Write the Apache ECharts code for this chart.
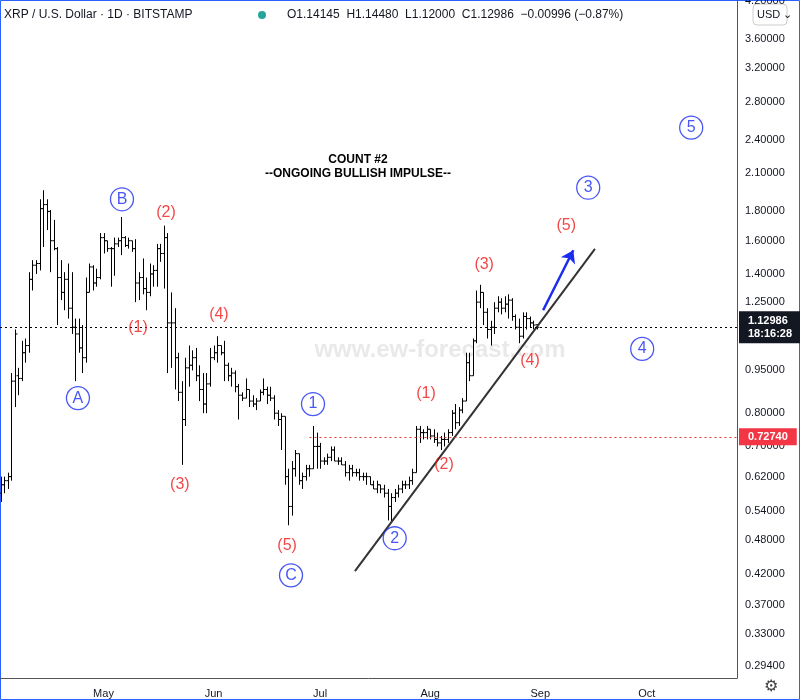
<!DOCTYPE html>
<html>
<head>
<meta charset="utf-8">
<script src="https://cdn.jsdelivr.net/npm/echarts@6/dist/echarts.min.js"></script>
<style>
html,body{margin:0;padding:0;background:#fff;}
#main{width:800px;height:700px;}
</style>
</head>
<body>
<div id="main"></div>
<script>
// daily bars from 2021-04-02, [open, high, low, close]
var startDay = Date.UTC(2021, 3, 2);
var bars = [
[0.58,0.62,0.56,0.60],[0.60,0.62,0.58,0.61],[0.61,0.63,0.59,0.62],[0.62,0.94,0.61,0.91],
[0.91,1.12,0.82,1.10],[0.93,0.96,0.86,0.92],[0.92,1.07,0.91,1.02],[1.02,1.08,0.98,1.05],
[1.05,1.41,1.02,1.37],[1.37,1.48,1.31,1.45],[1.45,1.48,1.40,1.46],[1.46,1.89,1.42,1.82],
[1.82,1.96,1.56,1.85],[1.85,1.89,1.67,1.80],[1.80,1.81,1.41,1.60],[1.60,1.74,1.54,1.55],
[1.55,1.56,1.14,1.38],[1.38,1.48,1.26,1.30],[1.30,1.41,1.21,1.37],[1.37,1.46,1.17,1.22],
[1.22,1.41,1.10,1.13],[1.13,1.17,0.91,1.10],[1.10,1.17,1.02,1.04],[1.04,1.14,0.94,1.00],
[1.00,1.38,0.98,1.30],[1.30,1.46,1.30,1.44],[1.44,1.45,1.31,1.35],[1.35,1.43,1.33,1.38],
[1.38,1.65,1.37,1.62],
// May
[1.62,1.65,1.52,1.60],[1.60,1.60,1.53,1.55],[1.55,1.56,1.33,1.55],[1.55,1.62,1.39,1.58],
[1.58,1.62,1.56,1.60],[1.60,1.76,1.51,1.62],[1.62,1.63,1.56,1.57],[1.57,1.62,1.55,1.60],
[1.60,1.60,1.53,1.55],[1.55,1.61,1.25,1.35],[1.35,1.41,1.26,1.38],[1.38,1.49,1.29,1.32],
[1.32,1.38,1.21,1.30],[1.30,1.46,1.28,1.40],[1.40,1.45,1.33,1.42],[1.42,1.58,1.33,1.55],
[1.55,1.58,1.47,1.52],[1.52,1.70,1.32,1.62],[1.62,1.65,0.94,1.15],[1.15,1.30,0.96,1.15],
[1.15,1.22,0.88,1.00],[1.00,1.02,0.84,0.87],[0.87,0.91,0.65,0.78],[0.78,1.00,0.76,0.96],
[0.96,1.05,0.89,0.97],[0.97,1.03,0.95,1.00],[1.00,1.04,0.91,0.93],[0.93,0.97,0.84,0.88],
[0.88,0.94,0.80,0.83],[0.83,0.94,0.80,0.90],[0.90,1.04,0.89,1.00],
// Jun
[1.00,1.05,0.99,1.02],[1.02,1.09,0.98,1.05],[1.05,1.05,1.01,1.02],[1.02,1.07,0.91,0.97],
[0.97,0.98,0.91,0.93],[0.93,0.96,0.89,0.94],[0.94,0.95,0.87,0.89],[0.89,0.90,0.78,0.86],
[0.86,0.87,0.84,0.85],[0.85,0.92,0.85,0.88],[0.88,0.88,0.82,0.84],[0.84,0.86,0.82,0.83],
[0.83,0.85,0.81,0.84],[0.84,0.88,0.84,0.87],[0.87,0.92,0.86,0.88],[0.88,0.89,0.83,0.86],
[0.86,0.89,0.84,0.85],[0.85,0.86,0.78,0.80],[0.80,0.81,0.76,0.78],[0.78,0.80,0.69,0.79],
[0.79,0.79,0.60,0.62],[0.62,0.64,0.51,0.55],[0.55,0.66,0.53,0.64],[0.64,0.69,0.62,0.68],
[0.68,0.68,0.60,0.61],[0.61,0.63,0.59,0.62],[0.62,0.65,0.61,0.64],[0.64,0.65,0.62,0.64],
[0.64,0.76,0.64,0.70],[0.70,0.74,0.64,0.70],
// Jul
[0.70,0.71,0.64,0.66],[0.66,0.67,0.65,0.66],[0.66,0.68,0.65,0.67],[0.67,0.70,0.66,0.69],
[0.69,0.70,0.66,0.66],[0.66,0.67,0.65,0.66],[0.66,0.67,0.65,0.65],[0.65,0.66,0.62,0.63],
[0.63,0.65,0.61,0.64],[0.64,0.65,0.62,0.63],[0.63,0.64,0.62,0.63],[0.63,0.64,0.61,0.62],
[0.62,0.63,0.61,0.62],[0.62,0.63,0.60,0.62],[0.62,0.62,0.60,0.60],[0.60,0.61,0.59,0.59],
[0.59,0.61,0.58,0.60],[0.60,0.60,0.58,0.59],[0.59,0.60,0.57,0.58],[0.58,0.59,0.52,0.55],
[0.55,0.58,0.515,0.57],[0.57,0.59,0.56,0.58],[0.58,0.60,0.57,0.59],[0.59,0.61,0.58,0.60],
[0.60,0.61,0.59,0.60],[0.60,0.62,0.59,0.61],[0.61,0.64,0.60,0.63],[0.63,0.76,0.63,0.75],
[0.75,0.76,0.71,0.74],[0.74,0.75,0.72,0.74],[0.74,0.76,0.72,0.75],
// Aug
[0.75,0.75,0.72,0.73],[0.73,0.75,0.71,0.72],[0.72,0.74,0.70,0.71],[0.71,0.73,0.69,0.72],
[0.72,0.74,0.70,0.72],[0.72,0.75,0.71,0.74],[0.74,0.81,0.73,0.80],[0.80,0.83,0.75,0.77],
[0.77,0.82,0.76,0.81],[0.81,0.85,0.80,0.84],[0.84,1.02,0.84,0.98],[0.98,1.02,0.91,0.93],
[0.93,1.08,0.93,1.07],[1.07,1.31,1.06,1.25],[1.25,1.34,1.22,1.30],[1.30,1.30,1.14,1.20],
[1.20,1.22,1.08,1.12],[1.12,1.16,1.05,1.13],[1.13,1.25,1.10,1.22],[1.22,1.28,1.20,1.25],
[1.25,1.27,1.19,1.22],[1.22,1.28,1.20,1.24],[1.24,1.29,1.17,1.26],[1.26,1.27,1.16,1.18],
[1.18,1.19,1.12,1.13],[1.13,1.17,1.06,1.09],[1.09,1.20,1.08,1.18],[1.18,1.20,1.12,1.17],
[1.17,1.18,1.13,1.15],[1.15,1.16,1.12,1.14],[1.14145,1.1448,1.12,1.12986]
];
var priceTicks = [4.2,3.6,3.2,2.8,2.4,2.1,1.8,1.6,1.4,1.25,0.95,0.8,0.7,0.62,0.54,0.48,0.42,0.37,0.33,0.294];
var lastPrice = 1.12986;
var levelPrice = 0.7274;
// wave labels: [day from Apr 1, price, text, kind]
var waveLabels = [
  [22.8,0.85,'A','c'],[35.2,1.89,'B','c'],[82.8,0.417,'C','c'],
  [39.7,1.13,'(1)','r'],[47.6,1.79,'(2)','r'],[51.5,0.60,'(3)','r'],[62.5,1.19,'(4)','r'],[81.7,0.47,'(5)','r'],
  [89,0.83,'1','c'],[112,0.484,'2','c'],[166.5,1.98,'3','c'],[181.7,1.036,'4','c'],[195.5,2.52,'5','c'],
  [120.8,0.864,'(1)','r'],[125.9,0.652,'(2)','r'],[137.2,1.456,'(3)','r'],[150.1,0.99,'(4)','r'],[160.3,1.70,'(5)','r']
];
var trendLine = [[100.8,0.424],[168.4,1.548]];
var arrowLine = [[153.8,1.21],[162.3,1.54]];

var DAY = 86400000;
var apr1 = Date.UTC(2021, 3, 1);
function t(d){ return apr1 + d * DAY; }
var barData = bars.map(function(b, i){ return [startDay + i * DAY, b[0], b[1], b[2], b[3]]; });

var chart = echarts.init(document.getElementById('main'));
var option = {
  animation: false,
  textStyle: {fontFamily: 'Liberation Sans, Arial, sans-serif'},
  grid: {left: 0, right: 63, top: 0, bottom: 22},
  xAxis: {
    type: 'time', min: t(0.85), max: t(208.4),
    splitLine: {show: false}, axisTick: {show: false},
    axisLine: {lineStyle: {color: '#555'}},
    minInterval: 28 * DAY,
    axisLabel: {color: '#131722', fontSize: 11, margin: 10, formatter: {month: '{MMM}', year: '{MMM}', day: ''}}
  },
  yAxis: {
    type: 'log', logBase: 10, min: 0.276, max: 4.21, position: 'right',
    axisLine: {show: true, lineStyle: {color: '#555'}},
    axisLabel: {show: false}, axisTick: {show: false}, splitLine: {show: false}
  },
  graphic: [
    {type: 'text', left: 4, top: 9, style: {text: 'XRP / U.S. Dollar · 1D · BITSTAMP', fill: '#131722', font: '12px Liberation Sans'}},
    {type: 'circle', shape: {cx: 262, cy: 15, r: 4}, style: {fill: '#26a69a'}},
    {type: 'text', left: 287, top: 9, style: {text: 'O1.14145  H1.14480  L1.12000  C1.12986  −0.00996 (−0.87%)', fill: '#131722', font: '12px Liberation Sans'}},
    {type: 'text', x: 358, y: 153, style: {text: 'COUNT #2\n--ONGOING BULLISH IMPULSE--', fill: '#000', font: 'bold 12px Liberation Sans', align: 'center', lineHeight: 14}},
    {type: 'text', x: 440, y: 350, style: {text: 'www.ew-forecast.com', fill: 'rgba(200,200,200,0.4)', font: 'bold 24px Liberation Sans', align: 'center', verticalAlign: 'middle'}},
    {type: 'rect', shape: {x: 753, y: 4, width: 34, height: 21, r: 4}, style: {fill: '#fff', stroke: '#ccc'}},
    {type: 'text', left: 757, top: 9, style: {text: 'USD ⌄', fill: '#131722', font: '11px Liberation Sans'}},
    {type: 'text', left: 764, top: 679, style: {text: '⚙', fill: '#444', font: '16px DejaVu Sans'}},
    {type: 'rect', shape: {x: 0.5, y: 0.5, width: 799, height: 699}, style: {fill: 'none', stroke: '#2962ff', lineWidth: 1}}
  ],
  series: [
    {
      type: 'custom', data: barData, encode: {x: 0, y: [1, 2, 3, 4]}, z: 3,
      renderItem: function(params, api){
        var x = api.value(0);
        var po = api.coord([x, api.value(1)]), ph = api.coord([x, api.value(2)]);
        var pl = api.coord([x, api.value(3)]), pc = api.coord([x, api.value(4)]);
        var s = {stroke: '#000', lineWidth: 1};
        var cx = Math.round(ph[0]) + 0.5;
        return {type: 'group', children: [
          {type: 'line', shape: {x1: cx, y1: ph[1], x2: cx, y2: pl[1]}, style: s},
          {type: 'line', shape: {x1: cx - 2, y1: po[1], x2: cx, y2: po[1]}, style: s},
          {type: 'line', shape: {x1: cx, y1: pc[1], x2: cx + 2, y2: pc[1]}, style: s}
        ]};
      }
    },
    {
      // price scale labels on the right
      type: 'line', data: [], z: 2,
      markLine: {
        silent: true, symbol: 'none', animation: false,
        data: priceTicks.map(function(v){
          return {yAxis: v, lineStyle: {color: 'rgba(0,0,0,0)', width: 1},
            label: {show: true, position: 'end', distance: 8, color: '#131722', fontSize: 11, formatter: v.toFixed(5)}};
        })
      }
    },
    {
      type: 'line', data: [], z: 6,
      markLine: {
        silent: true, symbol: 'none', animation: false,
        data: [
          {yAxis: lastPrice, lineStyle: {color: '#000', type: [2, 3], width: 1},
           label: {position: 'end', distance: 2, formatter: '1.12986\n18:16:28', color: '#fff', backgroundColor: '#131722', padding: [3, 9, 3, 9], fontSize: 11, fontWeight: 'bold', lineHeight: 13}},
          [{coord: [t(88), levelPrice], lineStyle: {color: '#e53935', type: [2, 3], width: 1}},
           {coord: [t(208.4), levelPrice], label: {position: 'end', distance: 2, formatter: '0.72740', color: '#fff', backgroundColor: '#f23645', padding: [3, 9, 3, 9], fontSize: 11, fontWeight: 'bold'}}]
        ]
      }
    },
    {
      type: 'line', data: trendLine.map(function(p){ return [t(p[0]), p[1]]; }),
      symbol: 'none', lineStyle: {color: '#333', width: 2}, z: 4
    },
    {
      type: 'line', data: arrowLine.map(function(p){ return [t(p[0]), p[1]]; }),
      symbol: 'none', lineStyle: {width: 0}, z: 4,
      markLine: {silent: true, symbol: ['none', 'arrow'], symbolSize: 12,
        lineStyle: {color: '#1a2cf0', width: 2.5, type: 'solid'}, label: {show: false},
        data: [[{coord: [t(arrowLine[0][0]), arrowLine[0][1]]}, {coord: [t(arrowLine[1][0]), arrowLine[1][1]]}]]}
    },
    {
      type: 'scatter', z: 5,
      data: waveLabels.map(function(w){
        var circ = w[3] === 'c';
        return {value: [t(w[0]), w[1]], symbolSize: circ ? 23 : 1,
          itemStyle: circ ? {color: '#fff', borderColor: '#1a2cf0', borderWidth: 1.3} : {color: 'rgba(0,0,0,0)'},
          label: {show: true, position: 'inside', formatter: w[2], fontSize: 16,
            color: circ ? '#1a2cf0' : '#f01818'}};
      })
    }
  ]
};
chart.setOption(option);
window.addEventListener('resize', function(){ chart.resize(); });
</script>
</body>
</html>
